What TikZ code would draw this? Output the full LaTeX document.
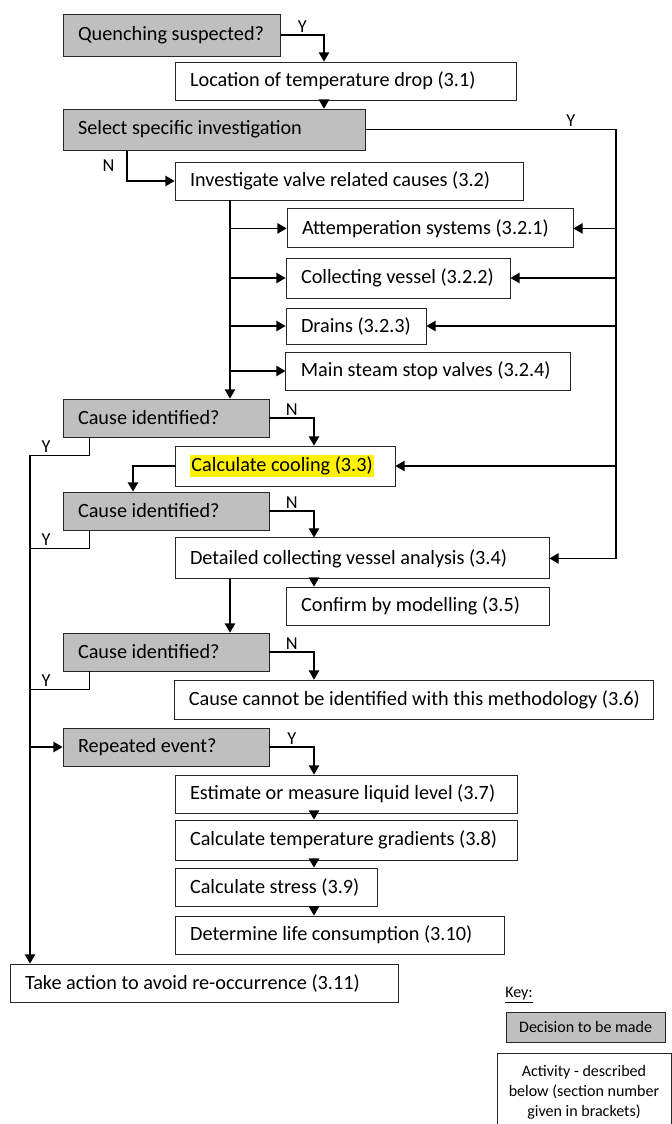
\documentclass[tikz,border=0pt]{standalone}
\usepackage{fontspec}
\setmainfont{Carlito}
\usetikzlibrary{arrows.meta, positioning, calc}

\begin{document}
\begin{tikzpicture}[
    >={Triangle[width=2.6mm, length=2.3mm]},
    box/.style={draw=black!85, line width=0.6pt, align=flush left, inner xsep=3.75mm, inner ysep=0pt, font=\fontsize{14.4}{17}\selectfont},
    activity/.style={box, fill=white},
    decision/.style={box, fill=gray!50},
    keybox/.style={draw=black!85, line width=0.6pt, align=center, inner sep=2pt, font=\fontsize{11.4}{14.2}\selectfont},
    link/.style={line width=0.9pt},
    flow/.style={->, line width=0.9pt},
    yn/.style={font=\fontsize{13}{15}\selectfont, inner sep=1.5pt}
]

\useasboundingbox (0,0) rectangle (16.8,-28.1);

\node[decision, text width=46.75mm, minimum height=10.5mm] (quench) at (4.29,-0.875) {Quenching suspected?};
\node[activity, text width=77.75mm, minimum height=9.5mm] (locate) at (8.64,-2.025) {Location of temperature drop (3.1)};
\node[decision, text width=68mm, minimum height=10.25mm] (select) at (5.35,-3.24) {Select specific investigation};
\node[activity, text width=79.5mm, minimum height=9.5mm] (valve) at (8.725,-4.525) {Investigate valve related causes (3.2)};

\node[activity, text width=64mm, minimum height=9.75mm] (attemp) at (10.75,-5.71) {Attemperation systems (3.2.1)};
\node[activity, text width=48.5mm, minimum height=10mm] (vessel) at (9.95,-6.95) {Collecting vessel (3.2.2)};
\node[activity, text width=27.5mm, minimum height=9mm] (drains) at (8.9,-8.15) {Drains (3.2.3)};
\node[activity, text width=63.75mm, minimum height=9.5mm] (msv) at (10.71,-9.275) {Main steam stop valves (3.2.4)};

\node[decision, text width=44mm, minimum height=9.5mm] (cause1) at (4.15,-10.45) {Cause identified?};
\node[activity, text width=47.5mm, minimum height=10mm] (cool) at (7.125,-11.65) {{\setlength{\fboxsep}{1pt}\colorbox{yellow}{Calculate cooling (3.3)}}};
\node[decision, text width=44mm, minimum height=9.5mm] (cause2) at (4.15,-12.775) {Cause identified?};
\node[activity, text width=86mm, minimum height=10.25mm] (detail) at (9.05,-13.96) {Detailed collecting vessel analysis (3.4)};
\node[activity, text width=58.25mm, minimum height=9.5mm] (confirm) at (10.44,-15.15) {Confirm by modelling (3.5)};
\node[decision, text width=44mm, minimum height=9.5mm] (cause3) at (4.15,-16.3) {Cause identified?};
\node[activity, inner xsep=2mm, minimum width=119.75mm, minimum height=9.75mm] (cannot) at (10.36,-17.49) {Cause cannot be identified with this methodology (3.6)};

\node[decision, text width=44mm, minimum height=9.5mm] (repeat) at (4.15,-18.675) {Repeated event?};
\node[activity, text width=78mm, minimum height=9.5mm] (level) at (8.65,-19.85) {Estimate or measure liquid level (3.7)};
\node[activity, text width=78mm, minimum height=10mm] (grad) at (8.65,-21.0) {Calculate temperature gradients (3.8)};
\node[activity, text width=43mm, minimum height=9.5mm] (stress) at (6.9,-22.175) {Calculate stress (3.9)};
\node[activity, text width=74.75mm, minimum height=9.5mm] (life) at (8.49,-23.375) {Determine life consumption (3.10)};
\node[activity, text width=89.5mm, minimum height=9.5mm] (action) at (5.1,-24.575) {Take action to avoid re-occurrence (3.11)};

% key
\node[anchor=west, inner sep=0pt, font=\fontsize{11.4}{14}\selectfont] (keytitle) at (12.625,-24.875) {\underline{Key:}};
\node[keybox, fill=gray!50, minimum width=39.75mm, minimum height=7.5mm] (keydec) at (14.64,-25.675) {Decision to be made};
\node[keybox, fill=white, minimum width=43.5mm, minimum height=19.5mm] (keyact) at (14.6,-27.3) {Activity - described\\below (section number\\given in brackets)};

% x positions of the vertical runs
\coordinate (xa) at (8.1,0);
\coordinate (xr) at (15.4,0);
\coordinate (xn) at (3.175,0);
\coordinate (xv) at (5.75,0);
\coordinate (xc) at (7.85,0);
\coordinate (xy) at (2.24,0);
\coordinate (xk) at (3.325,0);
\coordinate (xl) at (0.75,0);

\draw[flow] (quench.east) -| node[yn, pos=0.25, above] {Y} (locate.north -| xa);
\draw[flow] (locate.south -| xa) -- (select.north -| xa);

\draw[flow] (select.east) -- node[yn, pos=0.82, above] {Y} (select.east -| xr) -- (detail.east -| xr) -- (detail.east);
\draw[flow] (attemp.east -| xr) -- (attemp.east);
\draw[flow] (vessel.east -| xr) -- (vessel.east);
\draw[flow] (drains.east -| xr) -- (drains.east);
\draw[flow] (cool.east -| xr) -- (cool.east);

\draw[flow] (select.south -| xn) |- node[yn, pos=0.25, left=7pt] {N} (valve.west);
\draw[flow] (valve.south -| xv) -- (cause1.north -| xv);
\draw[flow] (attemp.west -| xv) -- (attemp.west);
\draw[flow] (vessel.west -| xv) -- (vessel.west);
\draw[flow] (drains.west -| xv) -- (drains.west);
\draw[flow] (msv.west -| xv) -- (msv.west);

\draw[flow] (cause1.east) -| node[yn, pos=0.25, above] {N} (cool.north -| xc);
\draw[flow] (cool.west) -| (cause2.north -| xk);
\draw[flow] (cause2.east) -| node[yn, pos=0.25, above] {N} (detail.north -| xc);
\draw[flow] (detail.south -| xc) -- (confirm.north -| xc);
\draw[flow] (detail.south -| xv) -- (cause3.north -| xv);
\draw[flow] (cause3.east) -| node[yn, pos=0.25, above] {N} (cannot.north -| xc);

\draw[flow] (repeat.east) -| node[yn, pos=0.25, above] {Y} (level.north -| xc);
\draw[flow] (level.south -| xc) -- (grad.north -| xc);
\draw[flow] (grad.south -| xc) -- (stress.north -| xc);
\draw[flow] (stress.south -| xc) -- (life.north -| xc);

% Y branches join the left run
\coordinate (y1) at ($(cause1.south -| xl)+(0,-4.5mm)$);
\coordinate (y2) at ($(cause2.south -| xl)+(0,-4.5mm)$);
\coordinate (y3) at ($(cause3.south -| xl)+(0,-4.5mm)$);
\draw[link] (cause1.south -| xy) |- node[yn, pos=0.865, above] {Y} (y1);
\draw[link] (cause2.south -| xy) |- node[yn, pos=0.865, above] {Y} (y2);
\draw[link] (cause3.south -| xy) |- node[yn, pos=0.865, above] {Y} (y3);
\draw[flow] (y1) -- (action.north -| xl);
\draw[flow] (repeat.west -| xl) -- (repeat.west);

\end{tikzpicture}
\end{document}
